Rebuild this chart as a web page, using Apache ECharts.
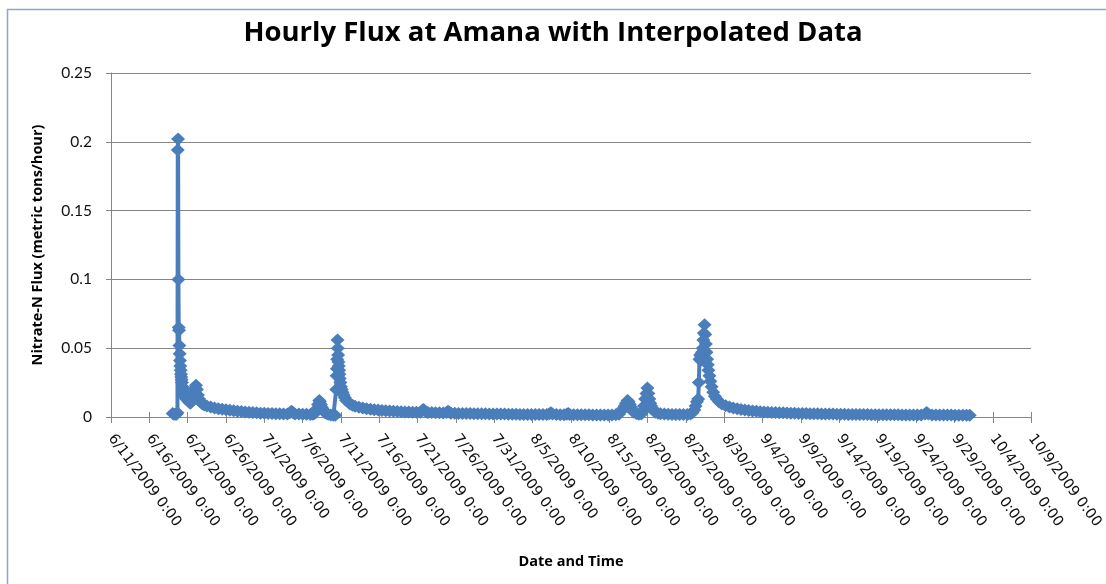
<!DOCTYPE html>
<html>
<head>
<meta charset="utf-8">
<script src="https://cdn.jsdelivr.net/npm/echarts@6/dist/echarts.min.js"></script>
<style>
  html, body { margin: 0; padding: 0; background: #fff; }
  #chart { width: 1106px; height: 584px; }
</style>
</head>
<body>
<div id="chart"></div>
<script>
// hours counted from 6/11/2009 0:00, flux in metric tons/hour
var juneHours = [193, 197, 201, 205, 208, 209, 210, 211, 212, 213, 214, 215, 216, 217, 218, 219, 220, 221, 222, 224, 226, 228, 230, 233, 236, 240, 244, 248, 252, 256, 260, 263, 266, 269, 272, 276, 280, 286, 292, 300, 312, 324, 336, 348, 360, 372, 384, 396, 408, 420, 432, 444, 456, 468];
var juneFlux = [0.0025, 0.002, 0.002, 0.002, 0.003, 0.194, 0.202, 0.1, 0.065, 0.063, 0.052, 0.046, 0.041, 0.037, 0.034, 0.031, 0.029, 0.027, 0.025, 0.022, 0.02, 0.018, 0.016, 0.014, 0.013, 0.012, 0.011, 0.01, 0.011, 0.014, 0.018, 0.021, 0.023, 0.02, 0.016, 0.013, 0.011, 0.0095, 0.0088, 0.008, 0.0072, 0.0066, 0.006, 0.0056, 0.0052, 0.0049, 0.0045, 0.0042, 0.004, 0.0037, 0.0035, 0.0032, 0.003, 0.0028];

var julyHours = [480, 492, 504, 516, 528, 540, 552, 560, 565, 570, 576, 588, 600, 612, 624, 632, 636, 640, 644, 648, 652, 654, 657, 660, 664, 668, 674, 680, 688, 696, 702, 705, 706, 707, 708, 709, 710, 711, 712, 713, 714, 715, 716, 718, 720, 722, 725, 728, 732, 736, 742, 748, 756, 764, 776, 788, 800, 812, 824, 836, 848, 860, 872, 884, 896, 908, 920, 932, 944, 956, 968, 974, 977, 980, 986, 992, 1004, 1016, 1028, 1040, 1050, 1055, 1060, 1064, 1076, 1088, 1100, 1112, 1124, 1136, 1148, 1160, 1172, 1184, 1196, 1208, 1220];
var julyFlux = [0.0027, 0.0026, 0.0025, 0.0024, 0.0023, 0.0022, 0.0022, 0.003, 0.0042, 0.003, 0.0022, 0.0021, 0.002, 0.002, 0.0019, 0.002, 0.0025, 0.003, 0.006, 0.009, 0.012, 0.011, 0.009, 0.007, 0.005, 0.0035, 0.0025, 0.002, 0.0015, 0.0012, 0.0012, 0.02, 0.03, 0.035, 0.042, 0.056, 0.05, 0.045, 0.04, 0.037, 0.034, 0.031, 0.028, 0.025, 0.022, 0.02, 0.018, 0.016, 0.014, 0.012, 0.011, 0.0095, 0.0085, 0.0078, 0.007, 0.0065, 0.006, 0.0056, 0.0053, 0.005, 0.0048, 0.0046, 0.0044, 0.0042, 0.004, 0.0038, 0.0037, 0.0036, 0.0035, 0.0034, 0.0034, 0.0045, 0.0055, 0.005, 0.0037, 0.0033, 0.0032, 0.0031, 0.003, 0.0029, 0.0032, 0.0042, 0.0034, 0.0028, 0.0027, 0.0026, 0.0026, 0.0025, 0.0025, 0.0024, 0.0024, 0.0023, 0.0023, 0.0022, 0.0022, 0.0021, 0.0021];

var augHours = [1232, 1244, 1256, 1268, 1280, 1292, 1304, 1316, 1328, 1340, 1352, 1364, 1372, 1377, 1382, 1394, 1406, 1418, 1426, 1431, 1436, 1448, 1460, 1472, 1484, 1496, 1508, 1520, 1532, 1544, 1556, 1568, 1580, 1590, 1596, 1602, 1608, 1612, 1617, 1620, 1624, 1628, 1632, 1636, 1644, 1652, 1660, 1664, 1668, 1672, 1676, 1679, 1682, 1685, 1688, 1691, 1694, 1698, 1704, 1712, 1720, 1732, 1744, 1756, 1768, 1780, 1792, 1804, 1814, 1820, 1826, 1830, 1834, 1838, 1840, 1842, 1844, 1846, 1848, 1850, 1852, 1854, 1856, 1858, 1860, 1862, 1864, 1866, 1868, 1870, 1873, 1876, 1880, 1885, 1890, 1896, 1903, 1912, 1924, 1936, 1948, 1960];
var augFlux = [0.0021, 0.002, 0.002, 0.002, 0.0019, 0.0019, 0.0019, 0.0018, 0.0018, 0.0018, 0.0018, 0.0019, 0.0024, 0.003, 0.0022, 0.0018, 0.0017, 0.0017, 0.002, 0.0026, 0.0018, 0.0017, 0.0016, 0.0016, 0.0016, 0.0016, 0.0015, 0.0015, 0.0015, 0.0015, 0.0015, 0.0015, 0.0016, 0.002, 0.004, 0.006, 0.008, 0.01, 0.012, 0.011, 0.009, 0.007, 0.005, 0.0035, 0.0025, 0.002, 0.0022, 0.004, 0.008, 0.013, 0.017, 0.021, 0.017, 0.013, 0.01, 0.008, 0.006, 0.0045, 0.0035, 0.0028, 0.0024, 0.0021, 0.002, 0.0019, 0.0018, 0.0018, 0.0018, 0.0019, 0.0022, 0.003, 0.005, 0.008, 0.011, 0.013, 0.025, 0.042, 0.045, 0.041, 0.044, 0.047, 0.05, 0.056, 0.061, 0.067, 0.06, 0.053, 0.047, 0.042, 0.038, 0.034, 0.03, 0.026, 0.022, 0.018, 0.015, 0.013, 0.011, 0.0095, 0.0082, 0.0072, 0.0065, 0.006];

var sepHours = [1972, 1984, 1996, 2008, 2020, 2032, 2044, 2056, 2068, 2080, 2092, 2104, 2116, 2128, 2140, 2152, 2164, 2176, 2188, 2200, 2212, 2224, 2236, 2248, 2260, 2272, 2284, 2296, 2308, 2320, 2332, 2344, 2356, 2368, 2380, 2392, 2404, 2416, 2428, 2440, 2452, 2464, 2476, 2488, 2500, 2512, 2524, 2536, 2548, 2553, 2558, 2570, 2582, 2594, 2606, 2618, 2630, 2642, 2654, 2666, 2678, 2688];
var sepFlux = [0.0055, 0.005, 0.0047, 0.0044, 0.0041, 0.0039, 0.0037, 0.0035, 0.0033, 0.0032, 0.0031, 0.003, 0.0029, 0.0028, 0.0027, 0.0026, 0.0025, 0.0025, 0.0024, 0.0023, 0.0023, 0.0022, 0.0022, 0.0021, 0.0021, 0.002, 0.002, 0.002, 0.0019, 0.0019, 0.0019, 0.0018, 0.0018, 0.0018, 0.0017, 0.0017, 0.0017, 0.0017, 0.0016, 0.0016, 0.0016, 0.0016, 0.0015, 0.0015, 0.0015, 0.0015, 0.0015, 0.0015, 0.0022, 0.0032, 0.0022, 0.0015, 0.0014, 0.0014, 0.0014, 0.0014, 0.0014, 0.0013, 0.0013, 0.0013, 0.0013, 0.0013];

var yTicks = [0, 0.05, 0.1, 0.15, 0.2, 0.25];

var blue = '#4a7ebb';
var gridGray = '#868686';

function pairs(hours, flux) {
    return hours.map(function(h, i) { return [h, flux[i]]; });
}
var seriesData = pairs(juneHours, juneFlux)
    .concat(pairs(julyHours, julyFlux))
    .concat(pairs(augHours, augFlux))
    .concat(pairs(sepHours, sepFlux));

var startMs = Date.UTC(2009, 5, 11);
function dateLabel(v) {
    var d = new Date(startMs + v * 3600000);
    return (d.getUTCMonth() + 1) + '/' + d.getUTCDate() + '/' + d.getUTCFullYear() + ' 0:00';
}

var chart = echarts.init(document.getElementById('chart'));
chart.setOption({
    animation: false,
    backgroundColor: '#fff',
    graphic: [{
        type: 'rect',
        silent: true,
        shape: { x: 7.5, y: 9.5, width: 1300, height: 800 },
        style: { fill: 'none', stroke: '#8ea6cb', lineWidth: 1.5 }
    }],
    title: {
        text: 'Hourly Flux at Amana with Interpolated Data',
        left: 'center',
        top: 14,
        textStyle: { fontFamily: 'Open Sans', fontWeight: 'bold', fontSize: 27.5, color: '#000' }
    },
    grid: { left: 111, right: 72, top: 73, bottom: 167 },
    xAxis: [{
        type: 'value',
        min: 0,
        max: 2880,
        interval: 120,
        name: 'Date and Time',
        nameLocation: 'middle',
        nameGap: 137,
        nameTextStyle: { fontFamily: 'Open Sans', fontWeight: 'bold', fontSize: 14.5, color: '#000' },
        axisLine: { show: true, onZero: false, lineStyle: { color: gridGray, width: 1 } },
        axisTick: { show: true, length: 6, lineStyle: { color: gridGray } },
        splitLine: { show: false },
        axisLabel: {
            rotate: -53,
            margin: 19,
            fontFamily: 'DejaVu Sans',
            fontSize: 14.5,
            color: '#111',
            formatter: dateLabel
        }
    }, {
        // inner half of the crossing tick marks
        type: 'value',
        position: 'bottom',
        min: 0,
        max: 2880,
        interval: 120,
        axisLine: { show: false },
        axisTick: { show: true, inside: true, length: 5, lineStyle: { color: gridGray } },
        axisLabel: { show: false },
        splitLine: { show: false }
    }],
    yAxis: {
        type: 'value',
        min: yTicks[0],
        max: yTicks[yTicks.length - 1],
        interval: 0.05,
        name: 'Nitrate-N Flux (metric tons/hour)',
        nameLocation: 'middle',
        nameGap: 66,
        nameTextStyle: { fontFamily: 'Open Sans', fontWeight: 'bold', fontSize: 14.5, color: '#000' },
        axisLine: { show: true, lineStyle: { color: gridGray, width: 1 } },
        axisTick: { show: true, length: 5, lineStyle: { color: gridGray } },
        splitLine: { show: true, lineStyle: { color: gridGray, width: 1 } },
        axisLabel: { margin: 19, fontFamily: 'Lato', fontSize: 15.5, color: '#111' }
    },
    series: [{
        type: 'line',
        data: seriesData,
        symbol: 'diamond',
        symbolSize: [14, 13],
        showAllSymbol: true,
        clip: false,
        lineStyle: { color: blue, width: 4 },
        itemStyle: { color: blue }
    }]
});
</script>
</body>
</html>
